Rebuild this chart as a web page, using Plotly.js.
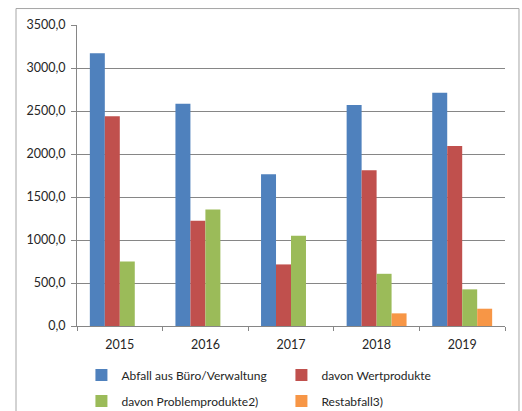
<!DOCTYPE html>
<html>
<head>
<meta charset="utf-8">
<script src="https://cdn.plot.ly/plotly-3.0.1.min.js"></script>
<style>html,body{margin:0;padding:0;background:#fff;}#chart{width:522px;height:411px;}</style>
</head>
<body>
<div id="chart"></div>
<script>
const years = ['2015', '2016', '2017', '2018', '2019'];
const seriesNames = ['Abfall aus Büro/Verwaltung', 'davon Wertprodukte', 'davon Problemprodukte2)', 'Restabfall3)'];
const abfallBuero = [3172, 2585, 1764, 2569, 2713];
const wertprodukte = [2438, 1223, 716, 1811, 2093];
const problemprodukte = [750, 1355, 1048, 607, 426];
const restabfall = [null, null, null, 147, 201];
const yTicks = [0, 500, 1000, 1500, 2000, 2500, 3000, 3500];

const colors = ['#4F81BD', '#C0504D', '#9BBB59', '#F79646'];
const values = [abfallBuero, wertprodukte, problemprodukte, restabfall];
const legendIds = ['legend', 'legend', 'legend2', 'legend2'];

const traces = values.map((v, i) => ({
  type: 'bar',
  name: seriesNames[i],
  x: years,
  y: v,
  marker: {color: colors[i], line: {width: 0}},
  legend: legendIds[i],
  hoverinfo: 'x+y+name'
}));

const font = {family: 'Lato, "Liberation Sans", sans-serif', size: 12, color: '#262626'};
const legendBase = {
  orientation: 'h',
  xref: 'container', yref: 'container',
  x: 0.156, xanchor: 'left',
  yanchor: 'middle',
  entrywidth: 155,
  entrywidthmode: 'pixels',
  font: font,
  bgcolor: 'rgba(0,0,0,0)',
  borderwidth: 0,
  traceorder: 'normal'
};

const layout = {
  width: 522,
  height: 411,
  margin: {l: 77, r: 17, t: 24.5, b: 85, pad: 0},
  paper_bgcolor: '#ffffff',
  plot_bgcolor: '#ffffff',
  separators: ',.',
  font: font,
  barmode: 'group',
  bargap: 0.3,
  bargroupgap: 0,
  showlegend: true,
  legend: Object.assign({}, legendBase, {y: 0.0876}),
  legend2: Object.assign({}, legendBase, {y: 0.0243}),
  xaxis: {
    type: 'category',
    tickvals: years,
    ticktext: years,
    showline: true,
    linecolor: '#868686',
    linewidth: 1,
    ticks: 'outside',
    tickson: 'boundaries',
    ticklen: 4,
    tickcolor: '#868686',
    showgrid: false,
    zeroline: false,
    tickfont: Object.assign({}, font, {size: 12.5}),
    ticklabelstandoff: 7,
    fixedrange: true,
    automargin: false
  },
  yaxis: {
    range: [0, 3500],
    tickvals: yTicks,
    tickformat: '.1f',
    showline: true,
    linecolor: '#868686',
    linewidth: 1,
    ticks: 'outside',
    ticklen: 5,
    tickcolor: '#868686',
    showgrid: true,
    gridcolor: '#868686',
    gridwidth: 1,
    zeroline: false,
    tickfont: Object.assign({}, font, {size: 12.5}),
    ticklabelstandoff: 3,
    fixedrange: true,
    automargin: false
  },
  shapes: [{
    type: 'rect',
    xref: 'paper', yref: 'paper',
    x0: -0.1425, x1: 1.0327,
    y0: -0.35, y1: 1.0547,
    line: {color: '#A6A6A6', width: 1},
    fillcolor: 'rgba(0,0,0,0)',
    layer: 'below'
  }]
};

Plotly.newPlot('chart', traces, layout, {displayModeBar: false, staticPlot: true});
</script>
</body>
</html>
